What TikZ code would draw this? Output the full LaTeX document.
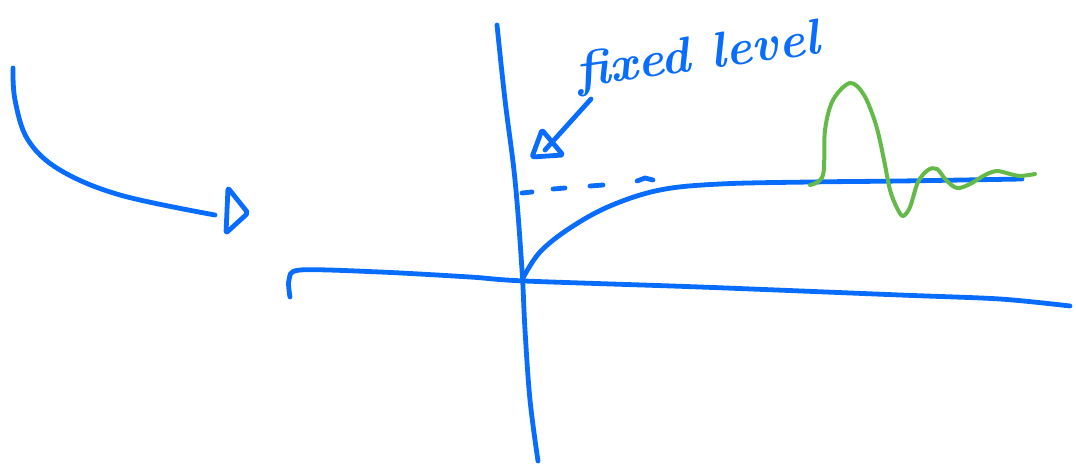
\documentclass[tikz,border=0pt]{standalone}
\definecolor{penblue}{RGB}{8,108,255}
\definecolor{pengreen}{RGB}{100,186,72}
\begin{document}
\begin{tikzpicture}[x=1pt,y=-1pt,
  pen/.style={draw=penblue,line width=4.8pt,line cap=round,line join=round},
  gpen/.style={draw=pengreen,line width=4pt,line cap=round,line join=round},
  label/.style={text=penblue,font=\fontsize{50}{56}\selectfont\bfseries\itshape,inner sep=0pt}]
\useasboundingbox (0,0) rectangle (1076,466);
% left curved arrow
\draw[pen] plot[smooth,tension=0.6] coordinates {(13,68) (15,100) (28,140) (60,170) (120,195) (215,215)};
\draw[pen,rounded corners=2pt] (228,188) -- (226,233) -- (248,213) -- cycle;
% vertical axis
\draw[pen] plot[smooth,tension=0.6] coordinates {(497,25) (505,100) (515,180) (522,270) (525,330) (530,400) (538,461)};
% horizontal axis
\draw[pen] plot[smooth,tension=0.5] coordinates {(290,297) (289,280) (300,270) (380,272) (470,277) (525,281) (700,287) (900,295) (1000,299) (1070,306)};
% rising curve
\draw[pen] plot[smooth,tension=0.6] coordinates {(523,278) (540,252) (570,228) (610,206) (660,190) (720,184) (810,182) (900,181) (1022,179)};
% dashed level
\draw[pen] (522,193) -- (532,192);
\draw[pen] (553,189) -- (565,188);
\draw[pen] (590,186) -- (603,185);
\draw[pen] (637,181) -- (645,178) -- (653,180);
% annotation arrow
\draw[pen] (591,99) -- (545,150);
\draw[pen,rounded corners=2pt] (542,130) -- (532,157) -- (563,155) -- cycle;
\node[label,rotate=8] (lbl) at (698,58) {fixed level};
% green wave
\draw[gpen] plot[smooth,tension=0.55] coordinates {(810,185) (823,175) (825,130) (833,100) (850,83) (864,95) (876,125) (884,160) (890,190) (897,208) (903,216) (910,207) (918,182) (928,170) (937,169) (946,180) (957,188) (970,184) (985,175) (997,171) (1010,174) (1020,176) (1035,174)};
\end{tikzpicture}
\end{document}
